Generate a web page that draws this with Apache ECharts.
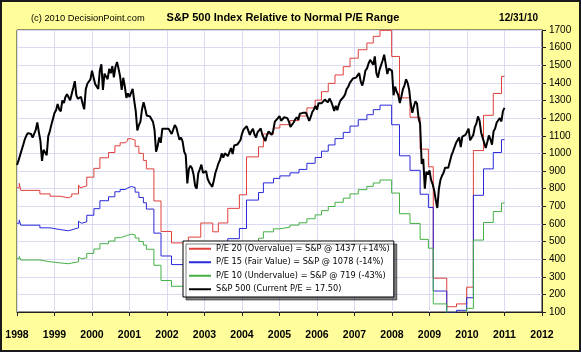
<!DOCTYPE html>
<html>
<head>
<meta charset="utf-8">
<script src="https://cdn.jsdelivr.net/npm/echarts@6/dist/echarts.min.js"></script>
<style>
  html, body { margin: 0; padding: 0; background: #fffe9a; }
  #chart { width: 581px; height: 352px; }
</style>
</head>
<body>
<div id="chart"></div>
<script>
// axis ranges
const yearMin = 1998, yearMax = 2012;
const priceMin = 100, priceMax = 1700, priceStep = 100;

// S&P 500, two readings per month starting 1 Jan 1998
const spxStart = 1998;
const spxPerYear = 24;
const spx = [
  935, 960, 990, 1020, 1049, 1080, 1101, 1115, 1111, 1110, 1090, 1080, 1133, 1175, 1120, 1070, 957, 1020, 1017, 990, 1098, 1125, 1163, 1165, 1229,
  1245, 1280, 1250, 1238, 1300, 1286, 1320, 1335, 1340, 1301, 1300, 1372, 1410, 1329, 1310, 1320, 1320, 1282, 1250, 1362, 1395, 1389, 1420, 1469,
  1465, 1394, 1390, 1366, 1470, 1505, 1360, 1452, 1450, 1421, 1480, 1455, 1495, 1431, 1490, 1518, 1480, 1436, 1360, 1429, 1380, 1315, 1340, 1320,
  1330, 1366, 1300, 1240, 1130, 1160, 1180, 1249, 1290, 1256, 1215, 1224, 1210, 1211, 1180, 1134, 1010, 1041, 1090, 1060, 1140, 1139, 1140, 1148,
  1140, 1130, 1110, 1107, 1160, 1147, 1110, 1077, 1090, 1067, 1010, 990, 830, 912, 930, 916, 880, 815, 800, 886, 910, 936, 890, 880,
  900, 856, 835, 841, 810, 848, 890, 917, 945, 964, 1000, 975, 1000, 990, 985, 1008, 1030, 996, 1045, 1051, 1050, 1058, 1075, 1112,
  1135, 1131, 1155, 1145, 1105, 1126, 1140, 1107, 1090, 1121, 1130, 1141, 1105, 1102, 1070, 1104, 1125, 1115, 1105, 1130, 1180, 1174, 1200, 1212,
  1185, 1181, 1205, 1204, 1200, 1181, 1150, 1157, 1175, 1192, 1205, 1191, 1225, 1234, 1230, 1220, 1230, 1229, 1185, 1207, 1235, 1249, 1270, 1248,
  1285, 1280, 1285, 1281, 1305, 1295, 1290, 1311, 1295, 1270, 1240, 1270, 1245, 1277, 1300, 1304, 1320, 1336, 1365, 1378, 1400, 1401, 1425, 1418,
  1430, 1438, 1455, 1407, 1385, 1421, 1470, 1482, 1510, 1531, 1530, 1503, 1550, 1455, 1430, 1474, 1480, 1527, 1560, 1549, 1450, 1481, 1485, 1468,
  1330, 1379, 1350, 1331, 1285, 1323, 1365, 1386, 1420, 1400, 1360, 1280, 1230, 1267, 1295, 1283, 1200, 1166, 940, 969, 800, 896, 880, 903,
  850, 826, 790, 735, 690, 798, 850, 873, 890, 919, 925, 919, 930, 987, 1010, 1021, 1060, 1057, 1090, 1036, 1095, 1096, 1105, 1115,
  1140, 1074, 1070, 1104, 1150, 1169, 1210, 1187, 1120, 1089, 1095, 1031, 1065, 1102, 1080, 1049, 1125, 1141, 1175, 1183, 1200, 1181, 1240, 1258
];

// trailing earnings steps (date in years, EPS), read from the P/E bands
const epsYears = [
  1998.00, 1998.06, 1998.10, 1998.61, 1998.88, 1999.15, 1999.37, 1999.46, 1999.64, 1999.68, 1999.72, 1999.86,
  2000.05, 2000.21, 2000.44, 2000.61, 2000.75, 2000.88, 2000.95, 2001.05, 2001.15, 2001.25, 2001.37, 2001.45,
  2001.65, 2001.84, 2002.12, 2002.57, 2002.90, 2003.22, 2003.37, 2003.62, 2003.93, 2004.12, 2004.44, 2004.57,
  2004.84, 2005.01, 2005.28, 2005.52, 2005.73, 2005.95, 2006.12, 2006.30, 2006.48, 2006.70, 2006.88, 2007.10,
  2007.33, 2007.50, 2007.68, 2007.99, 2008.20, 2008.48, 2008.75, 2008.97, 2009.10, 2009.46, 2009.72, 2009.99,
  2010.17, 2010.44, 2010.70, 2010.92, 2011.00
];
const eps = [
  40.25, 41.5, 39.5, 38.5, 37.85, 37.4, 37.75, 38.5, 41.0, 40.25, 40.75, 43.25,
  45.75, 48.75, 50.25, 52.15, 53.0, 53.55, 54.15, 53.75, 52.0, 50.0, 48.0, 45.6,
  36.5, 27.85, 24.6, 26.25, 30.25, 27.75, 30.25, 34.4, 38.25, 49.0, 51.85, 55.5,
  57.2, 58.15, 59.3, 60.6, 62.9, 65.1, 67.5, 69.85, 72.25, 74.6, 77.0, 79.4,
  81.3, 83.2, 84.9, 77.5, 65.75, 60.25, 51.2, 46.2, 14.6, 6.5, 7.3, 12.05,
  50.8, 60.8, 67.0, 71.85, 71.85
];

// P/E multiples of the bands
const peMultiples = [20, 15, 10];
const bandNames = [
  'P/E 20 (Overvalue) = S&P @ 1437 (+14%)',
  'P/E 15 (Fair Value) = S&P @ 1078 (-14%)',
  'P/E 10 (Undervalue) = S&P @ 719 (-43%)'
];
const spxName = 'S&P 500 (Current P/E = 17.50)';
const bandColors = ['#e0403c', '#2a2ad8', '#44b044'];

const gridColor = '#dadaf2';
const ink = '#222';

const chart = echarts.init(document.getElementById('chart'));

const bandSeries = peMultiples.map((m, k) => ({
  name: bandNames[k],
  type: 'line',
  step: 'end',
  showSymbol: false,
  symbol: 'none',
  color: bandColors[k],
  lineStyle: { width: 1, color: bandColors[k] },
  data: epsYears.map((yr, i) => [yr, +(eps[i] * m).toFixed(1)])
}));

chart.setOption({
  animation: false,
  backgroundColor: '#fffe9a',
  textStyle: { fontFamily: 'Liberation Sans' },
  grid: {
    left: 17, right: 39, top: 30, bottom: 40,
    show: true, backgroundColor: '#fff', borderColor: ink, borderWidth: 1
  },
  legend: {
    orient: 'vertical',
    left: 183, top: 241,
    data: bandNames.concat([spxName]),
    icon: 'rect',
    itemWidth: 22, itemHeight: 2, itemGap: 0,
    padding: [1, 4, 1, 6],
    backgroundColor: '#fff',
    borderColor: '#000', borderWidth: 1,
    shadowColor: 'rgba(0,0,0,0.5)', shadowOffsetX: 3, shadowOffsetY: 3, shadowBlur: 0,
    textStyle: { fontFamily: 'DejaVu Sans', fontSize: 8.2, color: '#000', lineHeight: 13.5 }
  },
  xAxis: {
    type: 'value',
    min: yearMin, max: yearMax, interval: 1,
    axisLine: { show: true, onZero: false, lineStyle: { color: ink } },
    axisTick: { show: true, length: 4, lineStyle: { color: ink } },
    axisLabel: { margin: 18, fontWeight: 'bold', fontSize: 10.5, color: '#000', fontFamily: 'Liberation Sans',
                 formatter: (v) => String(v) },
    splitLine: { show: true, lineStyle: { color: gridColor } }
  },
  yAxis: {
    type: 'value',
    position: 'right',
    min: priceMin, max: priceMax, interval: priceStep,
    axisLine: { show: true, lineStyle: { color: ink } },
    axisTick: { show: true, length: 4, lineStyle: { color: ink } },
    axisLabel: { margin: 7, fontSize: 10, color: '#000', fontFamily: 'Liberation Sans',
                 formatter: (v) => String(v) },
    splitLine: { show: true, lineStyle: { color: gridColor } }
  },
  graphic: [
    { type: 'text', x: 31, y: 18, silent: true,
      style: { text: '(c) 2010 DecisionPoint.com', font: '9.3px "Liberation Sans"', fill: '#000',
               align: 'left', verticalAlign: 'middle', textAlign: 'left', textVerticalAlign: 'middle' } },
    { type: 'text', x: 283, y: 18, silent: true,
      style: { text: 'S&P 500 Index Relative to Normal P/E Range', font: 'bold 11px "Liberation Sans"', fill: '#000',
               align: 'center', verticalAlign: 'middle', textAlign: 'center', textVerticalAlign: 'middle' } },
    { type: 'text', x: 538, y: 18, silent: true,
      style: { text: '12/31/10', font: 'bold 10px "Liberation Sans"', fill: '#000',
               align: 'right', verticalAlign: 'middle', textAlign: 'right', textVerticalAlign: 'middle' } },
    { type: 'rect', silent: true, z: 100,
      shape: { x: 1, y: 1, width: 579, height: 350 },
      style: { fill: null, stroke: '#1a1a1a', lineWidth: 2 } }
  ],
  series: bandSeries.concat([{
    name: spxName,
    type: 'line',
    showSymbol: false,
    symbol: 'none',
    color: '#000',
    lineStyle: { width: 2, color: '#000' },
    data: spx.map((v, i) => [spxStart + i / spxPerYear, v])
  }])
});
</script>
</body>
</html>
